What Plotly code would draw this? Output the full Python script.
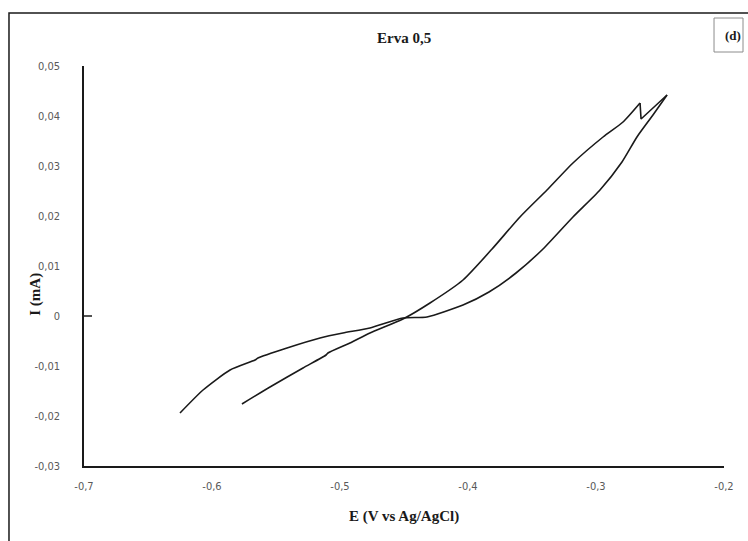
import plotly.graph_objects as go

# Branch 1 (from lower-left end up to the switching point)
E_b1 = [-0.5766, -0.5547, -0.5289, -0.5109, -0.5094, -0.4922, -0.4766, -0.4508,
        -0.4297, -0.4039, -0.3812, -0.3594, -0.3383, -0.3180, -0.2945, -0.2789,
        -0.2656, -0.2648, -0.2445]
I_b1 = [-0.0176, -0.0142, -0.0104, -0.0078, -0.0074, -0.0054, -0.0034, -0.0006,
        0.0026, 0.0072, 0.0134, 0.0198, 0.0252, 0.0306, 0.0358, 0.0388,
        0.0426, 0.0394, 0.0442]

# Branch 2 (from the switching point back to the far-left end)
E_b2 = [-0.2445, -0.2555, -0.2680, -0.2797, -0.2969, -0.3180, -0.3414, -0.3625,
        -0.3836, -0.4039, -0.4320, -0.4508, -0.4766, -0.4977, -0.5156, -0.5414,
        -0.5641, -0.5664, -0.5859, -0.6070, -0.6250]
I_b2 = [0.0442, 0.0402, 0.0358, 0.0308, 0.0252, 0.0198, 0.0134, 0.0086,
        0.0048, 0.0022, -0.0002, -0.0004, -0.0024, -0.0034, -0.0044, -0.0064,
        -0.0084, -0.0088, -0.0108, -0.0148, -0.0194]

x_ticks = [-0.7, -0.6, -0.5, -0.4, -0.3, -0.2]
x_labels = ["-0,7", "-0,6", "-0,5", "-0,4", "-0,3", "-0,2"]
y_ticks = [0.05, 0.04, 0.03, 0.02, 0.01, 0, -0.01, -0.02, -0.03]
y_labels = ["0,05", "0,04", "0,03", "0,02", "0,01", "0", "-0,01", "-0,02", "-0,03"]

line_style = dict(color="#1a1a1a", width=1.6)
spike = 16  # index of the spike peak in branch 1

fig = go.Figure()
# smooth part of branch 1 up to the spike peak
fig.add_trace(go.Scatter(x=E_b1[:spike + 1], y=I_b1[:spike + 1], mode="lines",
                         line=dict(**line_style, shape="spline", smoothing=0.6),
                         showlegend=False, hoverinfo="skip"))
# sharp spike and switching point
fig.add_trace(go.Scatter(x=E_b1[spike:], y=I_b1[spike:], mode="lines",
                         line=dict(**line_style, shape="linear"),
                         showlegend=False, hoverinfo="skip"))
# branch 2
fig.add_trace(go.Scatter(x=E_b2, y=I_b2, mode="lines",
                         line=dict(**line_style, shape="spline", smoothing=0.6),
                         showlegend=False, hoverinfo="skip"))

tick_font = dict(family="Liberation Sans Narrow, DejaVu Sans Condensed, Liberation Sans",
                 size=11, color="#595959")
serif_bold = dict(family="Liberation Serif, Times New Roman, serif", size=15, color="#1a1a1a")

fig.update_layout(
    width=748, height=541,
    margin=dict(l=84, r=24, t=66, b=75),
    paper_bgcolor="white", plot_bgcolor="white",
    xaxis=dict(range=[-0.7, -0.2], tickvals=x_ticks, ticktext=x_labels,
               showgrid=False, zeroline=False, showline=True,
               linecolor="#1a1a1a", linewidth=1.6, ticks="",
               tickfont=tick_font, ticklabelstandoff=9),
    yaxis=dict(range=[-0.03, 0.05], tickvals=y_ticks, ticktext=y_labels,
               showgrid=False, zeroline=False, showline=True,
               linecolor="#1a1a1a", linewidth=1.6, ticks="",
               tickfont=tick_font, ticklabelstandoff=20),
    annotations=[
        dict(text="<b>Erva 0,5</b>", xref="paper", yref="paper", x=0.5, y=1.07,
             xanchor="center", yanchor="middle", showarrow=False, font=serif_bold),
        dict(text="<b>E (V vs Ag/AgCl)</b>", xref="paper", yref="paper", x=0.5, y=-0.125,
             xanchor="center", yanchor="middle", showarrow=False, font=serif_bold),
        dict(text="<b>I (mA)</b>", xref="paper", yref="paper", x=-0.077, y=0.43,
             xanchor="center", yanchor="middle", showarrow=False, textangle=-90,
             font=serif_bold),
        dict(text="<b>(d)</b>", xref="paper", yref="paper", x=1.0148, y=1.0775,
             xanchor="center", yanchor="middle", showarrow=False,
             font=dict(family="Liberation Serif, Times New Roman, serif", size=13,
                       color="#1a1a1a")),
    ],
    shapes=[
        # outer chart border
        dict(type="rect", xref="paper", yref="paper", x0=-0.1172, x1=1.06,
             y0=-0.2, y1=1.1325, line=dict(color="#1a1a1a", width=1.5)),
        # (d) box
        dict(type="rect", xref="paper", yref="paper", x0=0.9844, x1=1.0297,
             y0=1.035, y1=1.12, line=dict(color="#8c8c8c", width=1)),
        # small tick at zero
        dict(type="line", xref="paper", yref="y", x0=0, x1=0.0125, y0=0, y1=0,
             line=dict(color="#1a1a1a", width=1.5)),
    ],
)

fig.write_html("out.html")
